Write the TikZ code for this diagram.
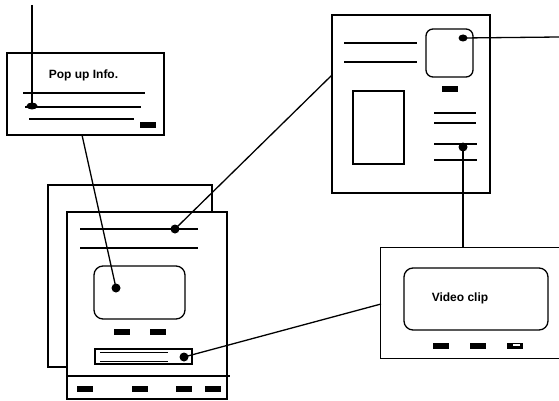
\documentclass[tikz,border=0pt]{standalone}
\usepackage{fontspec}
\usetikzlibrary{shapes.geometric}
\newfontfamily\labelfont{Liberation Sans}
\begin{document}
\begin{tikzpicture}[x=1pt,y=-1pt,
  line width=1.3pt,
  box/.style={draw, fill=white, rectangle, inner sep=0pt, outer sep=0pt, line width=1.3pt},
  rbox/.style={box, rounded corners=9pt},
  blk/.style={fill=black, rectangle, inner sep=0pt, minimum width=16pt, minimum height=6pt},
  dot/.style={fill=black, circle, inner sep=0pt, minimum size=9pt},
  edot/.style={fill=black, ellipse, inner sep=0pt, minimum width=11pt, minimum height=7pt},
  lbl/.style={font=\labelfont\bfseries\fontsize{12}{14}\selectfont, inner sep=0pt}]
\useasboundingbox (0,0) rectangle (559,401);

% ---------- pop up box ----------
\node[box, minimum width=157pt, minimum height=82pt] (popup) at (85.5,94) {};
\node[lbl] (poptxt) at (83.5,75) {Pop up Info.};
\coordinate (pl1a) at (23,93);  \coordinate (pl1b) at (145,93);
\coordinate (pl2a) at (25,107); \coordinate (pl2b) at (141,107);
\coordinate (pl3a) at (29,119); \coordinate (pl3b) at (134,119);
\draw (pl1a) -- (pl1b);
\draw (pl2a) -- (pl2b);
\draw (pl3a) -- (pl3b);
\node[blk] (popblk) at (148,125) {};

% ---------- back and front page ----------
\node[box, minimum width=164pt, minimum height=182pt] (back) at (130,276) {};
\node[box, minimum width=160pt, minimum height=187pt] (front) at (147,305.5) {};
\coordinate (banda) at (67,376); \coordinate (bandb) at (230,376);
\draw (banda) -- (bandb);
\coordinate (fl1a) at (80,229); \coordinate (fl1b) at (198,229);
\coordinate (fl2a) at (80,248); \coordinate (fl2b) at (198,248);
\draw (fl1a) -- (fl1b);
\draw (fl2a) -- (fl2b);
\node[rbox, minimum width=91pt, minimum height=53pt] (screen) at (139.5,292.5) {};
\node[blk] (fb1) at (122,332) {};
\node[blk] (fb2) at (158,332) {};
\node[box, minimum width=97pt, minimum height=15pt] (slider) at (143.5,356.5) {};
\coordinate (sl1a) at (100,352.5); \coordinate (sl1b) at (168,352.5);
\coordinate (sl2a) at (100,361);   \coordinate (sl2b) at (168,361);
\draw[line width=1pt] (sl1a) -- (sl1b);
\draw[line width=1pt] (sl2a) -- (sl2b);
\node[blk] (bb1) at (85,388.5) {};
\node[blk] (bb2) at (140,388.5) {};
\node[blk] (bb3) at (183.5,388.5) {};
\node[blk] (bb4) at (212.5,388.5) {};

% ---------- right page ----------
\node[box, minimum width=158pt, minimum height=178pt] (rpage) at (411,104) {};
\coordinate (rl1a) at (344,43); \coordinate (rl1b) at (417,43);
\coordinate (rl2a) at (344,62); \coordinate (rl2b) at (417,62);
\draw (rl1a) -- (rl1b);
\draw (rl2a) -- (rl2b);
\node[rbox, rounded corners=7pt, minimum width=47pt, minimum height=48pt] (photo) at (449.5,53) {};
\node[blk] (rblk) at (450,89) {};
\node[box, minimum width=51pt, minimum height=73pt] (leftrect) at (378.5,127.5) {};
\coordinate (rr1a) at (434,113); \coordinate (rr1b) at (476,113);
\coordinate (rr2a) at (434,123); \coordinate (rr2b) at (476,123);
\coordinate (rr3a) at (434,144); \coordinate (rr3b) at (477,144);
\coordinate (rr4a) at (434,160); \coordinate (rr4b) at (477,160);
\draw (rr1a) -- (rr1b);
\draw (rr2a) -- (rr2b);
\draw (rr3a) -- (rr3b);
\draw (rr4a) -- (rr4b);

% ---------- video box (runs off the right edge) ----------
\node[rectangle, inner sep=0pt, minimum width=178pt, minimum height=110pt] (video) at (470,303) {};
\draw (video.north east) -- (video.north west) -- (video.south west) -- (video.south east);
\node[rbox, minimum width=144pt, minimum height=62pt] (vscreen) at (476,299) {};
\node[lbl] (vtxt) at (460,298) {Video clip};
\node[blk] (vb1) at (441,345.5) {};
\node[blk] (vb2) at (478,345.5) {};
\node[blk] (vb3) at (515,345.5) {};
\fill[white] (513,344) rectangle (520,346);

% ---------- dots ----------
\node[edot] (popdot) at (32,106) {};
\node[dot] (linedot) at (175,229) {};
\node[dot] (screendot) at (116,288) {};
\node[dot] (sliderdot) at (184,357) {};
\node[edot, minimum width=9pt] (photodot) at (463,38) {};
\node[dot] (rdot) at (463,147) {};

% ---------- connectors ----------
\coordinate (topend) at (32,5);
\coordinate (popexit) at (82,135);
\coordinate (rpin) at (332,75);
\coordinate (vin) at (381,304);
\coordinate (vtop) at (463,248);
\coordinate (rightend) at (559,37);
\draw (topend) -- (popdot.center);
\draw (popexit) -- (screendot.center);
\draw (linedot.center) -- (rpin);
\draw (sliderdot.center) -- (vin);
\draw (rdot.center) -- (vtop);
\draw (photodot.center) -- (rightend);
\end{tikzpicture}
\end{document}
